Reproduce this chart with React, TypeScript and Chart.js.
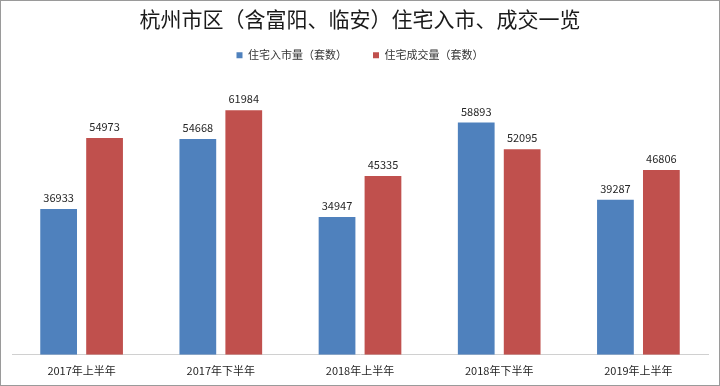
import { useEffect, useRef } from "react";
import { Chart, registerables } from "chart.js";

Chart.register(...registerables);

const titleText = "杭州市区（含富阳、临安）住宅入市、成交一览";
const categories = ["2017年上半年", "2017年下半年", "2018年上半年", "2018年下半年", "2019年上半年"];
const seriesNames = ["住宅入市量（套数）", "住宅成交量（套数）"];
const supplyValues = [36933, 54668, 34947, 58893, 39287];
const dealValues = [54973, 61984, 45335, 52095, 46806];
const yMax = 72000;

const FONT = "'Noto Sans CJK SC', 'Noto Sans', sans-serif";

const bgPlugin = {
  id: "bgBorder",
  beforeDraw(chart: any) {
    const { ctx, width, height } = chart;
    ctx.save();
    ctx.fillStyle = "#ffffff";
    ctx.fillRect(0, 0, width, height);
    ctx.restore();
  },
  afterDraw(chart: any) {
    const { ctx, width, height } = chart;
    ctx.save();
    ctx.strokeStyle = "#9a9a9a";
    ctx.lineWidth = 1;
    ctx.strokeRect(0.5, 0.5, width - 1, height - 1);
    ctx.restore();
  },
};

const labelPlugin = {
  id: "valueLabels",
  afterDatasetsDraw(chart: any) {
    const { ctx } = chart;
    ctx.save();
    ctx.font = `11px ${FONT}`;
    ctx.fillStyle = "#262626";
    ctx.textAlign = "center";
    ctx.textBaseline = "middle";
    chart.data.datasets.forEach((ds: any, di: number) => {
      const meta = chart.getDatasetMeta(di);
      meta.data.forEach((bar: any, i: number) => {
        ctx.fillText(String(ds.data[i]), bar.x, bar.y - 11);
      });
    });
    ctx.restore();
  },
};

export default function App() {
  const ref = useRef<HTMLCanvasElement | null>(null);

  useEffect(() => {
    document.body.style.margin = "0";
    const canvas = ref.current;
    if (!canvas) return;
    const chart = new Chart(canvas, {
      type: "bar",
      data: {
        labels: categories,
        datasets: [
          {
            label: seriesNames[0],
            data: supplyValues,
            backgroundColor: "#4F81BD",
            categoryPercentage: 0.66,
            barPercentage: 0.8,
          },
          {
            label: seriesNames[1],
            data: dealValues,
            backgroundColor: "#C0504D",
            categoryPercentage: 0.66,
            barPercentage: 0.8,
          },
        ],
      },
      options: {
        responsive: false,
        animation: false,
        devicePixelRatio: 1,
        layout: { padding: { left: 12, right: 12, top: 0, bottom: 0 } },
        plugins: {
          title: {
            display: true,
            text: titleText,
            color: "#1a1a1a",
            font: { family: FONT, size: 21, weight: "normal" },
            padding: { top: 6, bottom: -7.5 },
          },
          legend: {
            display: true,
            position: "top",
            labels: {
              boxWidth: 6,
              boxHeight: 6,
              padding: 26,
              color: "#333333",
              font: { family: FONT, size: 11 },
            },
          },
          tooltip: { enabled: false },
        },
        scales: {
          x: {
            grid: { display: false, drawTicks: false },
            border: { display: true, color: "#d0d0d0", width: 1 },
            ticks: {
              color: "#262626",
              padding: 9,
              font: { family: FONT, size: 11 },
            },
          },
          y: {
            display: false,
            min: 0,
            max: yMax,
          },
        },
      },
      plugins: [bgPlugin, labelPlugin],
    });
    return () => chart.destroy();
  }, []);

  return (
    <div style={{ position: "fixed", left: 0, top: 0, width: 720, height: 386 }}>
      <canvas ref={ref} width={720} height={386} style={{ display: "block" }} />
    </div>
  );
}
